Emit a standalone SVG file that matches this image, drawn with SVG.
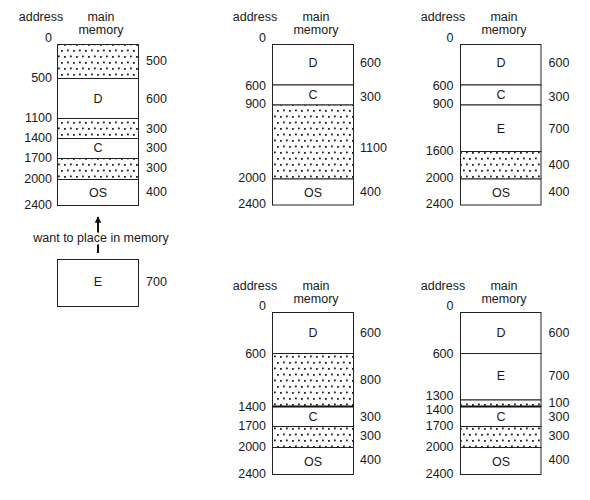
<svg xmlns="http://www.w3.org/2000/svg" width="590" height="500" viewBox="0 0 590 500">
<defs>
<pattern id="dots" patternUnits="userSpaceOnUse" width="12" height="12">
<rect width="12" height="12" fill="#fff"/>
<rect x="1" y="2" width="1.8" height="1.8" fill="#222"/>
<rect x="7" y="1.5" width="1.8" height="1.8" fill="#222"/>
<rect x="4" y="8" width="1.8" height="1.8" fill="#222"/>
<rect x="10" y="7.5" width="1.8" height="1.8" fill="#222"/>
</pattern>
<marker id="ah" viewBox="0 0 10 10" refX="9" refY="5" markerWidth="3.2" markerHeight="3.2" orient="auto" markerUnits="strokeWidth">
<path d="M0,0 L10,5 L0,10 Z" fill="#111"/>
</marker>
</defs>
<style>
text{font-family:"Liberation Sans",Arial,sans-serif;font-size:12.5px;fill:#1a1a1a}
.l{text-anchor:end}
.c{text-anchor:middle}
.seg{fill:#fff;stroke:#222;stroke-width:1}
.hole{fill:url(#dots);stroke:#222;stroke-width:1}
.thick{stroke:#111;stroke-width:2;fill:none}
.conn{stroke:#111;stroke-width:2;fill:none}
.halo{paint-order:stroke;stroke:#fff;stroke-width:5px}
</style>

<!-- Panel 1 -->
<g id="panel1">
<text x="41" y="20.5" class="c">address</text>
<text x="101" y="20.5" class="c">main</text>
<text x="101" y="33.5" class="c">memory</text>
<g id="p1-hole1"><rect class="hole" x="57.5" y="44.5" width="81" height="34"/><text x="146" y="65">500</text></g>
<g id="p1-D"><rect class="seg" x="57.5" y="78.5" width="81" height="40"/><text x="98" y="102.5" class="c">D</text><text x="146" y="102.5">600</text></g>
<g id="p1-hole2"><rect class="hole" x="57.5" y="118.5" width="81" height="20"/><text x="146" y="132.5">300</text></g>
<g id="p1-C"><rect class="seg" x="57.5" y="138.5" width="81" height="20"/><text x="98" y="152" class="c">C</text><text x="146" y="152">300</text></g>
<g id="p1-hole3"><rect class="hole" x="57.5" y="158.5" width="81" height="21"/><text x="146" y="172">300</text></g>
<g id="p1-OS"><rect class="seg" x="57.5" y="179.5" width="81" height="26"/><text x="98" y="196.5" class="c">OS</text><text x="146" y="196">400</text></g>
<text x="52" y="41.5" class="l">0</text>
<text x="52" y="82" class="l">500</text>
<text x="52" y="122" class="l">1100</text>
<text x="52" y="142" class="l">1400</text>
<text x="52" y="162" class="l">1700</text>
<text x="52" y="182.5" class="l">2000</text>
<text x="52" y="208.5" class="l">2400</text>
</g>

<g id="connectors">
<line class="conn" x1="98" y1="253" x2="98" y2="217" marker-end="url(#ah)"/>
</g>
<text x="101" y="242" class="c halo">want to place in memory</text>

<g id="process-E">
<rect class="seg" x="57.5" y="259.5" width="81" height="47"/>
<text x="98" y="285.5" class="c">E</text>
<text x="146" y="285.5">700</text>
</g>

<!-- Panel 2 -->
<g id="panel2">
<text x="255" y="20.5" class="c">address</text>
<text x="316" y="20.5" class="c">main</text>
<text x="316" y="33.5" class="c">memory</text>
<g id="p2-D"><rect class="seg" x="272.5" y="44.5" width="81" height="40.5"/><text x="313" y="67" class="c">D</text><text x="360" y="67">600</text></g>
<g id="p2-C"><rect class="seg" x="272.5" y="85" width="81" height="20"/><text x="313" y="98.5" class="c">C</text><text x="360" y="101">300</text></g>
<g id="p2-hole"><rect class="hole" x="272.5" y="105" width="81" height="74"/><text x="360" y="152">1100</text></g>
<g id="p2-OS"><rect class="seg" x="272.5" y="179" width="81" height="26"/><text x="313" y="196.5" class="c">OS</text><text x="360" y="196">400</text></g>
<text x="266" y="41.5" class="l">0</text>
<text x="266" y="89.5" class="l">600</text>
<text x="266" y="107.5" class="l">900</text>
<text x="266" y="182" class="l">2000</text>
<text x="266" y="208" class="l">2400</text>
</g>

<!-- Panel 3 -->
<g id="panel3">
<text x="443" y="20.5" class="c">address</text>
<text x="504" y="20.5" class="c">main</text>
<text x="504" y="33.5" class="c">memory</text>
<g id="p3-D"><rect class="seg" x="460.5" y="44.5" width="80.5" height="40.5"/><text x="501" y="67" class="c">D</text><text x="548.5" y="67">600</text></g>
<g id="p3-C"><rect class="seg" x="460.5" y="85" width="80.5" height="20"/><text x="501" y="98.5" class="c">C</text><text x="548.5" y="101">300</text></g>
<g id="p3-E"><rect class="seg" x="460.5" y="105" width="80.5" height="46.5"/><text x="501" y="133" class="c">E</text><text x="548.5" y="133">700</text></g>
<g id="p3-hole"><rect class="hole" x="460.5" y="151.5" width="80.5" height="27.5"/><text x="548.5" y="169">400</text></g>
<g id="p3-OS"><rect class="seg" x="460.5" y="179" width="80.5" height="26"/><text x="501" y="196.5" class="c">OS</text><text x="548.5" y="196">400</text></g>
<text x="453.5" y="41.5" class="l">0</text>
<text x="453.5" y="89.5" class="l">600</text>
<text x="453.5" y="108" class="l">900</text>
<text x="453.5" y="155" class="l">1600</text>
<text x="453.5" y="182" class="l">2000</text>
<text x="453.5" y="208" class="l">2400</text>
</g>

<!-- Panel 4 -->
<g id="panel4">
<text x="255" y="290" class="c">address</text>
<text x="316" y="290" class="c">main</text>
<text x="316" y="303" class="c">memory</text>
<g id="p4-D"><rect class="seg" x="272.5" y="312.5" width="81" height="41"/><text x="313" y="337" class="c">D</text><text x="360" y="337">600</text></g>
<g id="p4-hole1"><rect class="hole" x="272.5" y="353.5" width="81" height="53"/><text x="360" y="384">800</text></g>
<g id="p4-C"><rect class="seg" x="272.5" y="406.5" width="81" height="20"/><text x="313" y="421" class="c">C</text><text x="360" y="421">300</text></g>
<g id="p4-hole2"><rect class="hole" x="272.5" y="426.5" width="81" height="21"/><text x="360" y="439.5">300</text></g>
<g id="p4-OS"><rect class="seg" x="272.5" y="447.5" width="81" height="27"/><text x="313" y="466" class="c">OS</text><text x="360" y="463.5">400</text></g>
<line class="thick" x1="272.5" y1="406.5" x2="353.5" y2="406.5"/>
<text x="266" y="309.5" class="l">0</text>
<text x="266" y="357.5" class="l">600</text>
<text x="266" y="411" class="l">1400</text>
<text x="266" y="430" class="l">1700</text>
<text x="266" y="451" class="l">2000</text>
<text x="266" y="477.5" class="l">2400</text>
</g>

<!-- Panel 5 -->
<g id="panel5">
<text x="443" y="290" class="c">address</text>
<text x="504" y="290" class="c">main</text>
<text x="504" y="303" class="c">memory</text>
<g id="p5-D"><rect class="seg" x="460.5" y="312.5" width="80.5" height="41"/><text x="501" y="337" class="c">D</text><text x="548.5" y="337">600</text></g>
<g id="p5-E"><rect class="seg" x="460.5" y="353.5" width="80.5" height="46.5"/><text x="501" y="380" class="c">E</text><text x="548.5" y="380">700</text></g>
<g id="p5-hole1"><rect class="hole" x="460.5" y="400" width="80.5" height="6.5"/><text x="548.5" y="407">100</text></g>
<g id="p5-C"><rect class="seg" x="460.5" y="406.5" width="80.5" height="20"/><text x="501" y="421" class="c">C</text><text x="548.5" y="421">300</text></g>
<g id="p5-hole2"><rect class="hole" x="460.5" y="426.5" width="80.5" height="21"/><text x="548.5" y="439.5">300</text></g>
<g id="p5-OS"><rect class="seg" x="460.5" y="447.5" width="80.5" height="27"/><text x="501" y="466" class="c">OS</text><text x="548.5" y="463.5">400</text></g>
<line class="thick" x1="460.5" y1="406.5" x2="541" y2="406.5"/>
<text x="453.5" y="309.5" class="l">0</text>
<text x="453.5" y="357.5" class="l">600</text>
<text x="453.5" y="400" class="l">1300</text>
<text x="453.5" y="413.5" class="l">1400</text>
<text x="453.5" y="430" class="l">1700</text>
<text x="453.5" y="451" class="l">2000</text>
<text x="453.5" y="477.5" class="l">2400</text>
</g>
</svg>
